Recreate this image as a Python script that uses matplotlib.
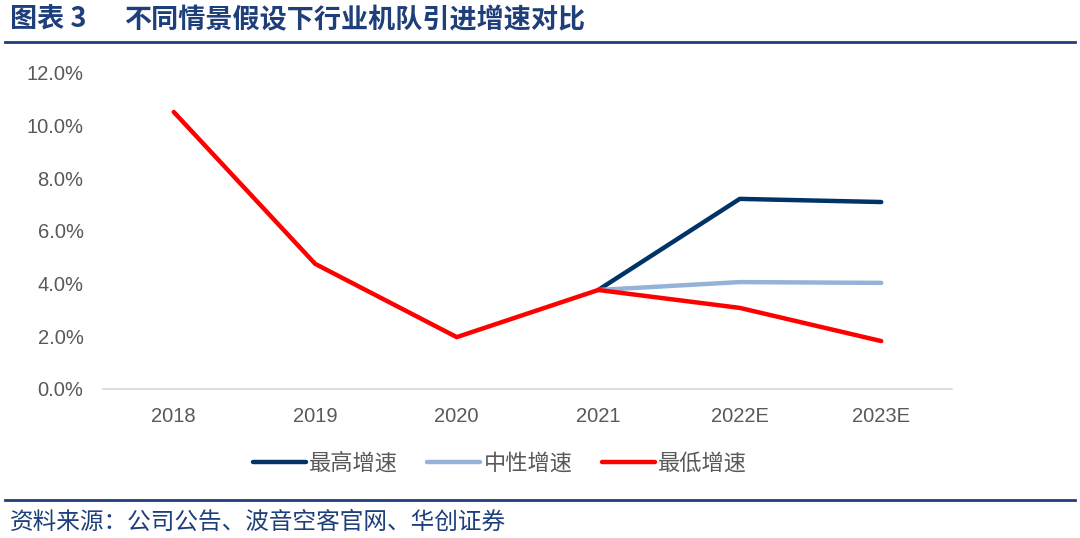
import numpy as np
import matplotlib
matplotlib.use('Agg')
import matplotlib.pyplot as plt
from matplotlib.lines import Line2D
from matplotlib.ticker import FuncFormatter

plt.rcParams['font.family'] = ['Liberation Sans', 'Noto Sans CJK SC', 'DejaVu Sans']

# Data
years = ['2018', '2019', '2020', '2021', '2022E', '2023E']
high = [np.nan, np.nan, np.nan, 0.0376, 0.0722, 0.0710]
mid = [np.nan, np.nan, np.nan, 0.0376, 0.0406, 0.0403]
low = [0.1052, 0.0475, 0.0197, 0.0376, 0.0308, 0.0182]
series_names = ['最高增速', '中性增速', '最低增速']

navy = '#1f3f7a'
c_high, c_mid, c_low = '#003366', '#95b3d7', '#ff0000'
grey = '#595959'

fig = plt.figure(figsize=(10.8, 5.38), dpi=100)
ax = fig.add_axes([103/1080, 1-389/538, (952-103)/1080, (389-73)/538])

x = np.arange(len(years))
ax.plot(x, high, color=c_high, lw=3.2, solid_capstyle='round')
ax.plot(x, mid, color=c_mid, lw=3.2, solid_capstyle='round')
ax.plot(x, low, color=c_low, lw=3.2, solid_capstyle='round')

ax.set_xlim(-0.5, len(years) - 0.5)
ax.set_ylim(0, 0.12)
ax.set_yticks(np.arange(0, 0.1201, 0.02))
ax.yaxis.set_major_formatter(FuncFormatter(lambda v, p: f'{v*100:.1f}%'))
ax.set_xticks(x)
ax.set_xticklabels(years)
ax.tick_params(length=0, labelsize=14.5, labelcolor=grey)
ax.tick_params(axis='y', pad=14)
ax.tick_params(axis='x', pad=13)
for s in ['top', 'right', 'left']:
    ax.spines[s].set_visible(False)
ax.spines['bottom'].set_color('#d9d9d9')
ax.spines['bottom'].set_linewidth(1.2)

handles = [Line2D([], [], color=c, lw=3.2, solid_capstyle='round') for c in (c_high, c_mid, c_low)]
fig.legend(handles, series_names, loc='center', bbox_to_anchor=(500/1080, 1-463/538), ncol=3,
           frameon=False, handlelength=2.4, handletextpad=0.15, columnspacing=1.3,
           prop={'family': ['Noto Sans CJK SC'], 'size': 16}, labelcolor=grey)

# Header / footer
fig.text(10/1080, 1-20/538, '图表 3', family=['Noto Sans CJK SC'],
         fontsize=19.5, fontweight='bold', color=navy, va='center', ha='left')
fig.text(124/1080, 1-20/538, '不同情景假设下行业机队引进增速对比', family=['Noto Sans CJK SC'],
         fontsize=19.5, fontweight='bold', color=navy, va='center', ha='left')
fig.add_artist(Line2D([5/1080, 1075/1080], [1-42/538, 1-42/538], color=navy, lw=2))
fig.add_artist(Line2D([5/1080, 1075/1080], [1-500/538, 1-500/538], color=navy, lw=2))
fig.text(10/1080, 1-522/538, '资料来源：公司公告、波音空客官网、华创证券', family=['Noto Sans CJK SC'],
         fontsize=17, style='italic', color=navy, va='center', ha='left')

fig.savefig('out.png', dpi=100)
